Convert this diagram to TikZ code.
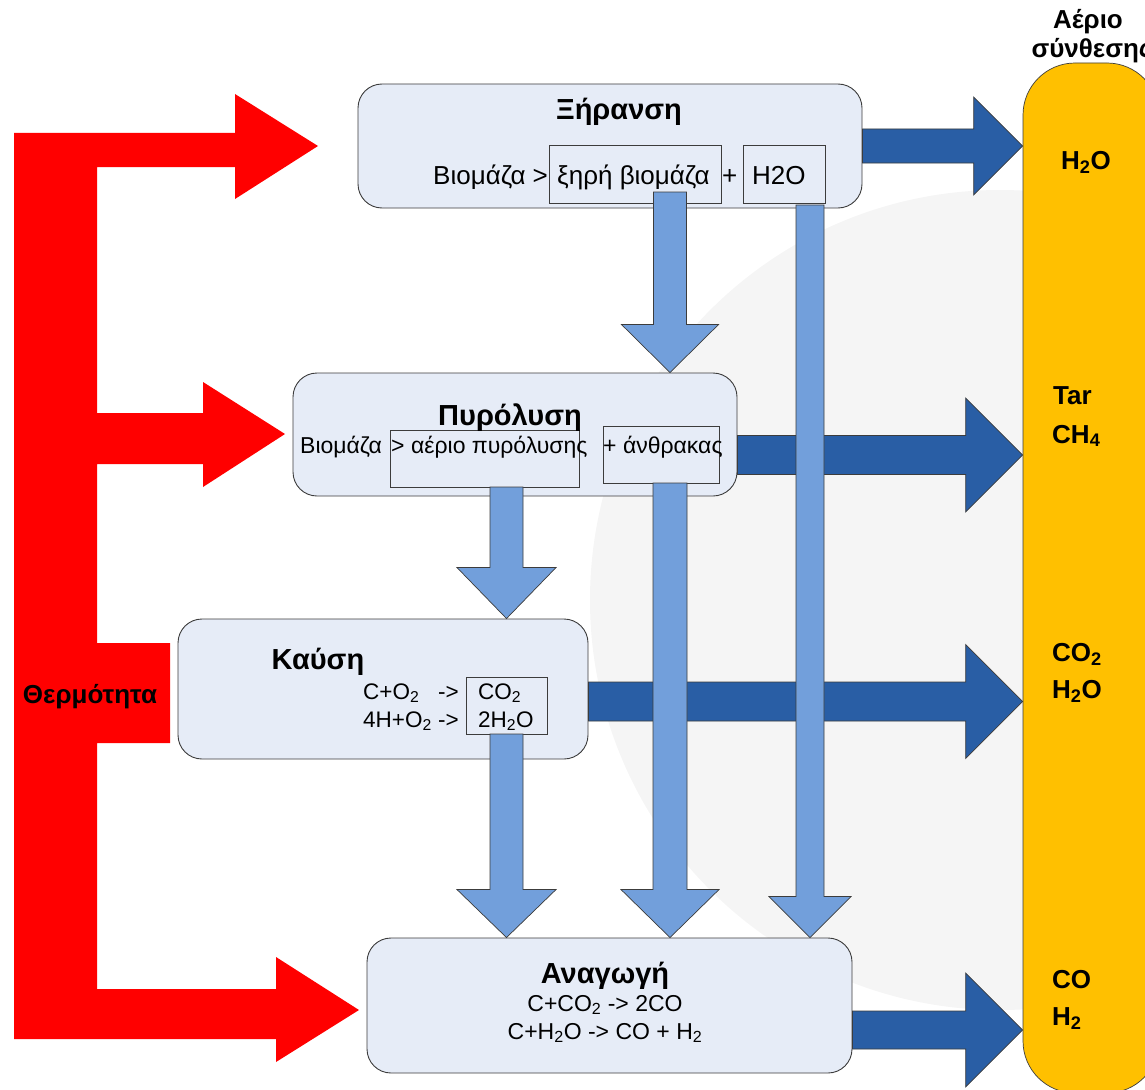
\documentclass[tikz,border=0pt]{standalone}
\usepackage{fontspec}
\setmainfont{Liberation Sans}
\usetikzlibrary{calc}
\definecolor{boxfill}{RGB}{230,236,247}
\definecolor{darkblue}{RGB}{41,94,165}
\definecolor{lightblue}{RGB}{114,159,219}
\definecolor{heatred}{RGB}{255,0,0}
\definecolor{synyellow}{RGB}{255,192,0}
\definecolor{edgegray}{RGB}{60,60,60}
\newcommand\ttlfnt{\fontsize{29}{33}\selectfont\bfseries}
\newcommand\drybdyfnt{\fontsize{26}{30}\selectfont}
\newcommand\bdyfnt{\fontsize{23}{27}\selectfont}
\newcommand\rxnfnt{\fontsize{23}{27}\selectfont}
\newcommand\combfnt{\fontsize{22.5}{26}\selectfont}
\newcommand\synfnt{\fontsize{26}{30}\selectfont\bfseries}
% horizontal block arrow: style, start (centre of tail), point giving tip x, shaft half, head half, head length
\newcommand\hblock[6]{%
  \path[#1] let \p1=(#2), \p2=(#3) in
   (\x1,\y1+#4) -- (\x2-#6,\y1+#4) -- (\x2-#6,\y1+#5) -- (\x2,\y1) --
   (\x2-#6,\y1-#5) -- (\x2-#6,\y1-#4) -- (\x1,\y1-#4) -- cycle;}
% vertical (downward) block arrow: style, start (centre of tail), point giving tip y, shaft half, head half, head length
\newcommand\vblock[6]{%
  \path[#1] let \p1=(#2), \p2=(#3) in
   (\x1-#4,\y1) -- (\x1-#4,\y2+#6) -- (\x1-#5,\y2+#6) -- (\x1,\y2) --
   (\x1+#5,\y2+#6) -- (\x1+#4,\y2+#6) -- (\x1+#4,\y1) -- cycle;}
\begin{document}
\begin{tikzpicture}[x=1pt,y=-1pt,
  procbox/.style={draw=edgegray,line width=0.9pt,fill=boxfill,rounded corners=24pt,inner sep=0pt},
  innerbox/.style={draw=edgegray,line width=0.8pt,fill=boxfill,inner sep=0pt},
  darkarr/.style={fill=darkblue,draw=edgegray,line width=0.7pt,line join=miter},
  lightarr/.style={fill=lightblue,draw=edgegray,line width=0.7pt,line join=miter},
  txt/.style={inner sep=0pt,anchor=base west},
  ctxt/.style={inner sep=0pt,anchor=base},
  ttl/.style={font=\ttlfnt},
  drybdy/.style={font=\drybdyfnt},
  bdy/.style={font=\bdyfnt},
  rxn/.style={font=\rxnfnt},
  cmb/.style={font=\combfnt},
  syng/.style={font=\synfnt}]
\useasboundingbox (0,0) rectangle (1145,1089);
\clip (0,0) rectangle (1145,1089);
% faint watermark
\fill[black!4] (1000,600) circle[radius=410];
% heat (red) shape
\fill[heatred] (14,133) -- (235,133) -- (235,94) -- (318,146) -- (235,199) -- (235,167)
  -- (97,167) -- (97,413) -- (203,413) -- (203,382) -- (285,434) -- (203,487) -- (203,464)
  -- (97,464) -- (97,643) -- (170,643) -- (170,743) -- (97,743) -- (97,989) -- (276,989)
  -- (276,957) -- (359,1010) -- (276,1062) -- (276,1039) -- (14,1039) -- cycle;
\node[syng] (heat) at (90,697) {Θερμότητα};
% synthesis gas column
\node[draw=edgegray,line width=0.7pt,fill=synyellow,rounded corners=52pt,minimum width=136pt,minimum height=1030pt,inner sep=0pt] (syn) at (1091,578) {};
\node[syng,ctxt] (syntitle1) at (1088,29) {Αέριο};
\node[syng,ctxt] (syntitle2) at (1092,58) {σύνθεσης};
% process boxes
\node[procbox,minimum width=504pt,minimum height=124pt] (dry) at (610,146) {};
\node[procbox,minimum width=444pt,minimum height=123pt] (pyro) at (515,434.5) {};
\node[procbox,minimum width=410pt,minimum height=140pt] (comb) at (383,689) {};
\node[procbox,minimum width=485pt,minimum height=135pt] (red) at (609.5,1005.5) {};
% inner boxes
\node[innerbox,minimum width=172pt,minimum height=58pt] (dryA) at (635,174) {};
\node[innerbox,minimum width=82pt,minimum height=58pt] (dryB) at (784,174) {};
\node[innerbox,minimum width=189pt,minimum height=57pt] (pyA) at (484.5,458.5) {};
\node[innerbox,minimum width=116pt,minimum height=57pt] (pyB) at (661,454.5) {};
\node[innerbox,minimum width=81pt,minimum height=57pt] (combA) at (506.5,705.5) {};
% texts of Ξήρανση
\node[ctxt,ttl] (dryT) at (619,120) {Ξήρανση};
\node[txt,drybdy] (dry1) at (433,184) {Βιομάζα >};
\node[txt,drybdy] (dry2) at (557,184) {ξηρή βιομάζα};
\node[txt,drybdy] (dry3) at (722,184) {+};
\node[txt,drybdy] (dry4) at (752,184) {H2O};
% texts of Πυρόλυση
\node[ctxt,ttl] (pyT) at (510,425) {Πυρόλυση};
\node[txt,bdy] (py1) at (300,453) {Βιομάζα};
\node[txt,bdy] (py2) at (391,453) {> αέριο πυρόλυσης};
\node[txt,bdy] (py3) at (603,453) {+ άνθρακας};
% texts of Καύση
\node[ctxt,ttl] (combT) at (318,669) {Καύση};
\node[txt,cmb] (c1) at (363,699) {C+O\textsubscript{2}\ \ \ ->};
\node[txt,cmb] (c2) at (363,727) {4H+O\textsubscript{2} ->};
\node[txt,cmb] (c3) at (478,699) {CO\textsubscript{2}};
\node[txt,cmb] (c4) at (478,727) {2H\textsubscript{2}O};
% texts of Αναγωγή
\node[ctxt,ttl] (redT) at (605,983) {Αναγωγή};
\node[ctxt,rxn] (r1) at (605,1011) {C+CO\textsubscript{2} -> 2CO};
\node[ctxt,rxn] (r2) at (605,1039) {C+H\textsubscript{2}O -> CO + H\textsubscript{2}};
% dark blue arrows to synthesis gas
\coordinate (d1s) at (dry.east |- 0,146);
\hblock{darkarr}{d1s}{syn.west}{17pt}{49pt}{49pt}
\coordinate (d2s) at (pyro.east |- 0,455);
\hblock{darkarr}{d2s}{syn.west}{19.5pt}{57pt}{57pt}
\coordinate (d3s) at (comb.east |- 0,701.5);
\hblock{darkarr}{d3s}{syn.west}{19.5pt}{57pt}{57pt}
\coordinate (d4s) at (red.east |- 0,1030);
\hblock{darkarr}{d4s}{syn.west}{19pt}{57pt}{57pt}
% light blue arrows
\coordinate (l1s) at (670,192);
\vblock{lightarr}{l1s}{pyro.north}{16.5pt}{48.5pt}{48pt}
\coordinate (l2s) at (810,205);
\vblock{lightarr}{l2s}{red.north}{14pt}{41pt}{41pt}
\coordinate (l3s) at (670,483);
\vblock{lightarr}{l3s}{red.north}{17pt}{49pt}{48pt}
\coordinate (l4s) at (506.5,487);
\vblock{lightarr}{l4s}{comb.north}{16.5pt}{49.5pt}{51pt}
\coordinate (l5s) at (506.5,734);
\vblock{lightarr}{l5s}{red.north}{16.5pt}{49.5pt}{48pt}
% synthesis gas contents
\node[ctxt,syng] (g1) at (1086,169) {H\textsubscript{2}O};
\node[txt,syng] (g2) at (1053,404) {Tar};
\node[txt,syng] (g3) at (1052,443) {CH\textsubscript{4}};
\node[txt,syng] (g4) at (1052,661) {CO\textsubscript{2}};
\node[txt,syng] (g5) at (1052,698) {H\textsubscript{2}O};
\node[txt,syng] (g6) at (1052,988) {CO};
\node[txt,syng] (g7) at (1052,1025) {H\textsubscript{2}};
\end{tikzpicture}
\end{document}
